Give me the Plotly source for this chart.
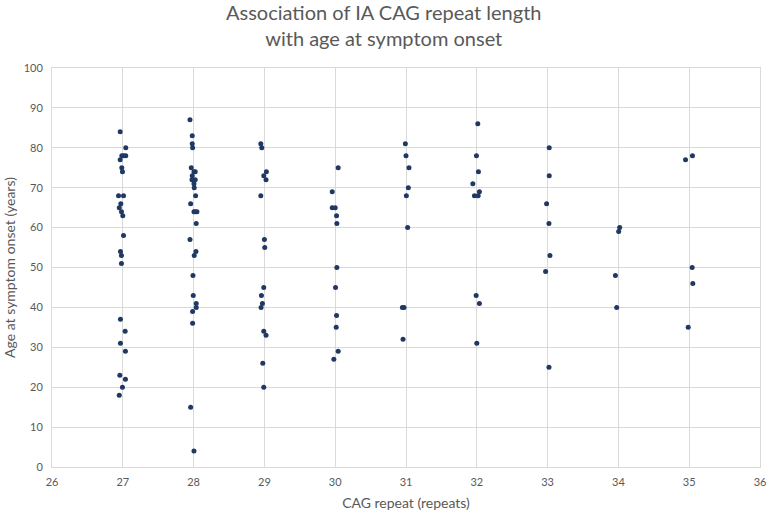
import plotly.graph_objects as go

# CAG repeat (with the slight horizontal scatter seen in the chart) and age at onset
cag_27 = [26.963, 27.042, 26.986, 27.014, 27.042, 26.963, 26.986, 26.995, 26.94, 27.01, 26.972, 26.95, 26.981, 27.0, 27.01, 26.967, 26.981, 26.981, 26.967, 27.033, 26.967, 27.037, 26.958, 27.037, 26.995, 26.95]
age_27 = [84, 80, 78, 78, 78, 77, 75, 74, 68, 68, 66, 65, 64, 63, 58, 54, 53, 51, 37, 34, 31, 29, 23, 22, 20, 18]

cag_28 = [27.949, 27.981, 27.981, 27.986, 27.967, 28.005, 28.023, 27.981, 27.977, 28.023, 28.005, 28.009, 28.028, 27.958, 28.005, 28.023, 28.047, 28.037, 27.949, 28.033, 28.009, 27.991, 27.995, 28.037, 28.037, 27.986, 27.986, 27.958, 28.005]
age_28 = [87, 83, 81, 80, 75, 74, 74, 73, 72, 72, 71, 70, 68, 66, 64, 64, 64, 61, 57, 54, 53, 48, 43, 41, 40, 39, 36, 15, 4]

cag_29 = [28.949, 28.963, 29.028, 28.991, 29.023, 28.949, 29.0, 29.005, 28.991, 28.958, 28.972, 28.953, 28.991, 29.023, 28.977, 28.991]
age_29 = [81, 80, 74, 73, 72, 68, 57, 55, 45, 43, 41, 40, 34, 33, 26, 20]

cag_30 = [30.042, 29.958, 29.958, 30.0, 30.019, 30.023, 30.023, 30.005, 30.019, 30.014, 30.042, 29.981]
age_30 = [75, 69, 65, 65, 63, 61, 50, 45, 38, 35, 29, 27]

cag_31 = [30.991, 31.0, 31.042, 31.033, 31.005, 31.023, 30.949, 30.972, 30.958]
age_31 = [81, 78, 75, 70, 68, 60, 40, 40, 32]

cag_32 = [32.014, 31.995, 32.023, 31.944, 32.037, 31.967, 32.019, 31.991, 32.037, 32.0]
age_32 = [86, 78, 74, 71, 69, 68, 68, 43, 41, 31]

cag_33 = [33.023, 33.023, 32.986, 33.019, 33.033, 32.972, 33.019]
age_33 = [80, 73, 66, 61, 53, 49, 25]

cag_34 = [34.018, 34.004, 33.958, 33.976]
age_34 = [60, 59, 48, 40]

cag_35 = [35.046, 34.948, 35.042, 35.051, 34.986]
age_35 = [78, 77, 50, 46, 35]

cag = cag_27 + cag_28 + cag_29 + cag_30 + cag_31 + cag_32 + cag_33 + cag_34 + cag_35
age = age_27 + age_28 + age_29 + age_30 + age_31 + age_32 + age_33 + age_34 + age_35

x_ticks = list(range(26, 37))
y_ticks = list(range(0, 101, 10))

FONT = "Lato"
GRAY = "#595959"
GRID = "#d9d9d9"

fig = go.Figure()
fig.add_trace(go.Scatter(
    x=cag, y=age, mode="markers",
    marker=dict(color="#1f3864", size=5, line=dict(width=0)),
    showlegend=False,
))

fig.add_annotation(
    text="Association of IA CAG repeat length<br>with age at symptom onset",
    xref="paper", yref="paper", x=0.469, y=1.175,
    xanchor="center", yanchor="top", showarrow=False,
    font=dict(family=FONT, size=20, color=GRAY),
)

fig.update_layout(
    width=774, height=516,
    margin=dict(l=52, r=8, t=68, b=49),
    paper_bgcolor="white", plot_bgcolor="white",
    font=dict(family=FONT, color=GRAY, size=11),
    xaxis=dict(
        range=[26, 36], tickvals=x_ticks, ticktext=[str(v) for v in x_ticks],
        showgrid=True, gridcolor=GRID, gridwidth=1,
        showline=True, linecolor=GRID, mirror=True, zeroline=False,
        ticks="", ticklabelstandoff=5, tickfont=dict(size=11, color=GRAY),
        title=dict(text="CAG repeat (repeats)", font=dict(size=14, color=GRAY), standoff=10),
    ),
    yaxis=dict(
        range=[0, 100], tickvals=y_ticks, ticktext=[str(v) for v in y_ticks],
        showgrid=True, gridcolor=GRID, gridwidth=1,
        showline=True, linecolor=GRID, mirror=True, zeroline=False,
        ticks="", ticklabelstandoff=6, tickfont=dict(size=11, color=GRAY),
        title=dict(text="Age at symptom onset (years)", font=dict(size=14, color=GRAY), standoff=4),
    ),
)

fig.write_html("out.html")
